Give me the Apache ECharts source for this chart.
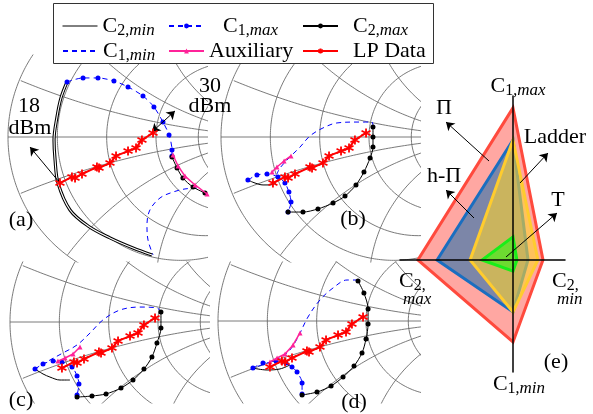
<!DOCTYPE html>
<html>
<head>
<meta charset="utf-8">
<script src="https://cdn.jsdelivr.net/npm/echarts@6/dist/echarts.min.js"></script>
<style>
html,body{margin:0;padding:0;background:#fff;}
#chart{width:593px;height:414px;}
</style>
</head>
<body>
<div id="chart"></div>
<script>
// ---------- data: reflection coefficients (Re, Im) ----------
// load-pull trajectory, identical in all four panels
const lpData = [[-0.649,-0.311],[-0.568,-0.270],[-0.547,-0.277],[-0.500,-0.250],[-0.399,-0.203],[-0.385,-0.209],[-0.311,-0.176],[-0.270,-0.128],[-0.189,-0.095],[-0.135,-0.074],[-0.095,-0.020],[-0.020,0.027]];

// panel (a)
const aC2min = [[-0.601,0.372],[-0.642,0.264],[-0.669,0.135],[-0.689,-0.020],[-0.682,-0.155],[-0.662,-0.311],[-0.581,-0.493],[-0.459,-0.601],[-0.311,-0.682],[-0.155,-0.750],[-0.027,-0.797]];
const aC1min = [[0.277,-0.345],[0.196,-0.351],[0.115,-0.372],[0.027,-0.412],[-0.041,-0.493],[-0.061,-0.595],[-0.054,-0.696],[-0.020,-0.797]];
const aC1max = [[-0.601,0.372],[-0.493,0.399],[-0.392,0.399],[-0.284,0.378],[-0.189,0.338],[-0.088,0.277],[-0.014,0.203],[0.047,0.101],[0.088,0.014],[0.108,-0.088],[0.108,-0.128]];
const aC2max = [[0.108,-0.135],[0.142,-0.209],[0.182,-0.277],[0.250,-0.338],[0.331,-0.378]];
const aAux = [[0.115,-0.122],[0.149,-0.196],[0.196,-0.264],[0.264,-0.324],[0.345,-0.385]];

// panel (b)
const bC2min = [[-0.818,-0.291],[-0.770,-0.311],[-0.716,-0.324],[-0.669,-0.324],[-0.628,-0.311]];
const bC1min = [[0.027,0.068],[0.020,0.101],[-0.081,0.101],[-0.216,0.095],[-0.311,0.061],[-0.399,0.007],[-0.466,-0.068],[-0.534,-0.135],[-0.601,-0.209],[-0.622,-0.250]];
const bC1max = [[-0.818,-0.291],[-0.757,-0.257],[-0.689,-0.250],[-0.615,-0.270],[-0.568,-0.311],[-0.541,-0.372],[-0.527,-0.439],[-0.547,-0.507]];
const bC2max = [[-0.547,-0.507],[-0.446,-0.507],[-0.345,-0.486],[-0.243,-0.446],[-0.162,-0.399],[-0.088,-0.324],[-0.034,-0.236],[0.007,-0.142],[0.027,-0.068],[0.027,0],[0.027,0.068]];
const bAux = [[-0.527,-0.128],[-0.574,-0.162],[-0.622,-0.203],[-0.655,-0.236]];

// panel (c)
const cC2min = [[-0.831,-0.318],[-0.777,-0.351],[-0.730,-0.372],[-0.662,-0.392],[-0.595,-0.392]];
const cC1min = [[0.020,0.068],[-0.007,0.095],[-0.122,0.101],[-0.257,0.081],[-0.372,0.014],[-0.459,-0.074],[-0.547,-0.155],[-0.642,-0.209],[-0.730,-0.257],[-0.831,-0.318]];
const cC1max = [[-0.831,-0.318],[-0.777,-0.284],[-0.709,-0.264],[-0.649,-0.270],[-0.581,-0.304],[-0.547,-0.365],[-0.534,-0.419],[-0.547,-0.493]];
const cC2max = [[-0.547,-0.507],[-0.446,-0.500],[-0.351,-0.486],[-0.250,-0.446],[-0.169,-0.392],[-0.095,-0.318],[-0.041,-0.236],[-0.007,-0.142],[0.020,-0.041],[0.020,0.068]];
const cAux = [[-0.527,-0.169],[-0.574,-0.216],[-0.628,-0.243],[-0.676,-0.264]];

// panel (d)
const dC2min = [[-0.764,-0.318],[-0.669,-0.331],[-0.581,-0.324],[-0.514,-0.297]];
const dC1min = [[-0.054,0.277],[-0.128,0.277],[-0.223,0.223],[-0.311,0.142],[-0.392,0.027],[-0.459,-0.108],[-0.514,-0.196],[-0.581,-0.250],[-0.669,-0.284],[-0.764,-0.318]];
const dC1max = [[-0.764,-0.318],[-0.696,-0.284],[-0.608,-0.270],[-0.541,-0.284],[-0.500,-0.311],[-0.466,-0.345],[-0.432,-0.419],[-0.432,-0.493]];
const dC2max = [[-0.432,-0.500],[-0.331,-0.480],[-0.236,-0.439],[-0.155,-0.378],[-0.081,-0.304],[-0.027,-0.216],[0,-0.122],[0.014,-0.020],[0.014,0.081],[-0.014,0.189],[-0.054,0.270]];
const dAux = [[-0.446,-0.081],[-0.493,-0.162],[-0.547,-0.223],[-0.601,-0.250],[-0.649,-0.277]];

// Smith chart grid values
const rCircles = [0, 0.2, 0.5, 1, 1.8];
const xArcs = [0.2, 0.5, 1, 2];

// panel (e): capacitance range per topology, order [C1,max, C2,max, C1,min, C2,min]
const radarAxes = ['C1,max', 'C2,max', 'C1,min', 'C2,min'];
const topologyNames = ['Π', 'h-Π', 'Ladder', 'T'];
const piVals = [5.07, 3.17, 2.73, 1.0];
const hPiVals = [4.0, 2.53, 1.73, 0.5];
const ladderVals = [4.0, 1.43, 1.73, 0.83];
const tVals = [0.77, 1.03, 0.37, 0.13];

// ---------- layout ----------
const SERIF = 'Liberation Serif';
const S = 148;        // px per unit of reflection coefficient
const RS = 30;        // px per unit on the topology chart
const panels = [
  {left:0,   top:55,  width:207, height:207, cx:156, cy:137},
  {left:213, top:55,  width:207, height:207, cx:369, cy:137},
  {left:2,   top:262, width:207, height:141, cx:158, cy:322},
  {left:211, top:262, width:209, height:141, cx:366, cy:321}
];
const panelData = [
  {c2min:aC2min, c1min:aC1min, c1max:aC1max, c2max:aC2max, aux:aAux},
  {c2min:bC2min, c1min:bC1min, c1max:bC1max, c2max:bC2max, aux:bAux},
  {c2min:cC2min, c1min:cC1min, c1max:cC1max, c2max:cC2max, aux:cAux},
  {c2min:dC2min, c1min:dC1min, c1max:dC1max, c2max:dC2max, aux:dAux}
];
const radarBox = {left:400, top:96, width:165, height:276, cx:513, cy:260};

function smithGrid() {
  const pts = [];
  const gap = () => pts.push(['-', '-']);
  rCircles.forEach(r => {
    const c = r / (1 + r), rad = 1 / (1 + r);
    for (let i = 0; i <= 360; i++) {
      const t = i * Math.PI / 180;
      pts.push([c + rad * Math.cos(t), rad * Math.sin(t)]);
    }
    gap();
  });
  xArcs.forEach(x => [1, -1].forEach(sg => {
    const cy = sg / x, rad = 1 / x;
    let on = false;
    for (let i = 0; i <= 1440; i++) {
      const t = i * Math.PI / 720;
      const px = 1 + rad * Math.cos(t), py = cy + rad * Math.sin(t);
      if (px * px + py * py <= 1.0001) { pts.push([px, py]); on = true; }
      else if (on) { gap(); on = false; }
    }
    if (on) gap();
  }));
  pts.push([-1, 0], [1, 0]);
  return pts;
}
const gridPts = smithGrid();

const STAR = 'path://M0,-5L0,5M-4.33,-2.5L4.33,2.5M-4.33,2.5L4.33,-2.5';
const BLUE = '#0000ff', MAG = '#ff2399', RED = '#ff0000';

const grids = [], xAxes = [], yAxes = [], series = [];
panels.forEach((p, i) => {
  grids.push({left:p.left, top:p.top, width:p.width, height:p.height, containLabel:false});
  xAxes.push({gridIndex:i, type:'value', show:false,
    min:(p.left - p.cx) / S, max:(p.left + p.width - p.cx) / S});
  yAxes.push({gridIndex:i, type:'value', show:false,
    min:(p.cy - p.top - p.height) / S, max:(p.cy - p.top) / S});
  const d = panelData[i];
  const base = {type:'line', xAxisIndex:i, yAxisIndex:i, clip:true, animation:false};
  series.push(Object.assign({}, base, {name:'smith' + i, data:gridPts, symbol:'none', silent:true, z:1,
    lineStyle:{color:'#6b6b6b', width:0.9}}));
  series.push(Object.assign({}, base, {name:'C1,min', data:d.c1min, symbol:'none', smooth:0.35, z:2,
    itemStyle:{color:BLUE, opacity:0}, lineStyle:{color:BLUE, width:1, type:[5,4]}}));
  if (i === 0) {
    // panel (a): C2,min drawn as a double rule
    series.push(Object.assign({}, base, {name:'C2,min', data:d.c2min, symbol:'none', smooth:0.35, z:2,
      itemStyle:{color:'#000', opacity:0}, lineStyle:{color:'#000', width:3.2}}));
    series.push(Object.assign({}, base, {name:'C2,min', data:d.c2min, symbol:'none', smooth:0.35, z:2,
      itemStyle:{color:'#fff', opacity:0}, lineStyle:{color:'#fff', width:1.1}}));
  } else {
    series.push(Object.assign({}, base, {name:'C2,min', data:d.c2min, symbol:'none', smooth:0.35, z:2,
      itemStyle:{color:'#000', opacity:0}, lineStyle:{color:'#000', width:1}}));
  }
  series.push(Object.assign({}, base, {name:'C1,max', data:d.c1max, symbol:'circle', symbolSize:5, smooth:0.3, z:3,
    itemStyle:{color:BLUE}, lineStyle:{color:BLUE, width:1, type:[5,4]}}));
  series.push(Object.assign({}, base, {name:'C2,max', data:d.c2max, symbol:'circle', symbolSize:5, smooth:0.3, z:3,
    itemStyle:{color:'#000'}, lineStyle:{color:'#000', width:1}}));
  series.push(Object.assign({}, base, {name:'Auxiliary', data:d.aux, symbol:'triangle', symbolSize:5, z:4,
    itemStyle:{color:MAG}, lineStyle:{color:MAG, width:1.5}}));
  const lp = Object.assign({}, base, {name:'LP Data', data:lpData, symbol:STAR, symbolSize:9, z:5,
    itemStyle:{color:RED, borderColor:RED, borderWidth:1.8}, lineStyle:{color:RED, width:2}});
  if (i === 0) {
    lp.markLine = {silent:true, animation:false, symbol:['none','arrow'], symbolSize:8,
      label:{show:false}, lineStyle:{color:'#000', width:1, type:'solid'},
      data:[
        [{coord:lpData[0]}, {coord:[-0.851,-0.068]}],
        [{coord:[-0.027,0.034], symbol:'arrow'}, {coord:[0.128,0.176]}]
      ]};
  }
  series.push(lp);
});

// topology chart
grids.push({left:radarBox.left, top:radarBox.top, width:radarBox.width, height:radarBox.height});
xAxes.push({gridIndex:4, type:'value', z:10,
  min:(radarBox.left - radarBox.cx) / RS, max:(radarBox.left + radarBox.width - radarBox.cx) / RS,
  axisLine:{show:true, onZero:true, lineStyle:{color:'#000', width:1.5}},
  axisTick:{show:false}, axisLabel:{show:false}, splitLine:{show:false}});
yAxes.push({gridIndex:4, type:'value', z:10,
  min:(radarBox.cy - radarBox.top - radarBox.height) / RS, max:(radarBox.cy - radarBox.top) / RS,
  axisLine:{show:true, onZero:true, lineStyle:{color:'#000', width:1.5}},
  axisTick:{show:false}, axisLabel:{show:false}, splitLine:{show:false}});

const shapeFill = ['rgba(255,80,70,0.5)', 'rgba(37,111,171,0.6)', 'rgba(255,212,45,0.6)', 'rgba(70,235,30,0.7)'];
const shapeStroke = ['#ff4a3d', '#1a6ec0', '#ffcc2e', '#19ee19'];
series.push({
  type:'custom', name:'topology', xAxisIndex:4, yAxisIndex:4, animation:false, silent:true, z:2,
  data:[piVals, hPiVals, ladderVals, tVals].map((v, k) => ({name:topologyNames[k], value:v})),
  renderItem(params, api) {
    const k = params.dataIndex;
    const up = api.value(0), lf = api.value(1), dn = api.value(2), rt = api.value(3);
    return {type:'polygon',
      shape:{points:[api.coord([0, up]), api.coord([-lf, 0]), api.coord([0, -dn]), api.coord([rt, 0])]},
      style:{fill:shapeFill[k], stroke:shapeStroke[k], lineWidth:3, lineJoin:'miter'}};
  }
});
const toR = (px, py) => [(px - radarBox.cx) / RS, (radarBox.cy - py) / RS];
series.push({
  type:'line', name:'pointers', xAxisIndex:4, yAxisIndex:4, data:[[0,0]], symbol:'none', z:12, animation:false,
  markLine:{silent:true, animation:false, symbol:['none','arrow'], symbolSize:8, label:{show:false},
    lineStyle:{color:'#000', width:1, type:'solid'},
    data:[
      [{coord:toR(489,161)}, {coord:toR(446,122)}],
      [{coord:toR(474,218)}, {coord:toR(446,190)}],
      [{coord:toR(520,183)}, {coord:toR(548,153)}],
      [{coord:toR(506,257)}, {coord:toR(557,213)}]
    ]}
});

// ---------- text ----------
const rich = {
  m:{fontFamily:SERIF, fontSize:22, lineHeight:26, color:'#000', fill:'#000'},
  s:{fontFamily:SERIF, fontSize:16, lineHeight:14, verticalAlign:'bottom', color:'#000', fill:'#000'},
  i:{fontFamily:SERIF, fontSize:17, fontStyle:'italic', lineHeight:14, verticalAlign:'bottom', color:'#000', fill:'#000'},
  p:{fontFamily:SERIF, fontSize:22, lineHeight:26, color:'#000', fill:'#000'},
  sp14:{width:14, lineHeight:26}, sp10:{width:10, lineHeight:26}
};
function capLabel(name) {
  const m = name.match(/^C(\d),(\w+)$/);
  return m ? '{m|C}{s|' + m[1] + ',}{i|' + m[2] + '}' : '{p|' + name + '}';
}
const legendPos = [
  {name:'C2,min', left:62, top:15, sp:'', line:{color:'#000', width:1}},
  {name:'C1,max', left:168, top:15, sp:'sp14'},
  {name:'C2,max', left:302, top:15, sp:'sp10'},
  {name:'C1,min', left:62, top:40, sp:''},
  {name:'Auxiliary', left:168, top:40, sp:''},
  {name:'LP Data', left:302, top:40, sp:'sp10'}
];
const legends = legendPos.map(l => ({
  data:[l.line ? {name:l.name, lineStyle:l.line} : l.name],
  left:l.left, top:l.top, padding:0, itemWidth:35, itemHeight:6, selectedMode:false,
  textStyle:{fontFamily:SERIF, fontSize:22, rich:rich},
  formatter:n => (l.sp ? '{' + l.sp + '| }' : '') + capLabel(n)
}));

function txt(x, y, text, align) {
  return {type:'text', x:x, y:y, z:20,
    style:{text:text, rich:rich, align:align || 'center', verticalAlign:'middle',
      fontFamily:SERIF, fontSize:22, fill:'#000'}};
}
const graphics = [
  {type:'rect', z:3, shape:{x:53.5, y:3.5, width:380, height:60},
    style:{fill:'#fff', stroke:'#333', lineWidth:1}},
  txt(21, 220, '(a)'), txt(353, 219, '(b)'), txt(21, 400, '(c)'), txt(354, 402, '(d)'),
  txt(29, 106, '18'), txt(30, 128, 'dBm'),
  txt(210, 86, '30'), txt(210, 106, 'dBm'),
  txt(518, 86, capLabel('C1,max')),
  txt(519, 384, capLabel('C1,min')),
  txt(399, 281, '{m|C}{s|2,}', 'left'), txt(403, 301, '{i|max}', 'left'),
  txt(552, 281, '{m|C}{s|2,}', 'left'), txt(557, 301, '{i|min}', 'left'),
  txt(444, 108, 'Π'), txt(444, 176, 'h-Π'), txt(555, 137, 'Ladder'), txt(558, 200, 'T'),
  txt(556, 362, '(e)')
];

const chart = echarts.init(document.getElementById('chart'), null, {renderer:'canvas'});
chart.setOption({
  backgroundColor:'#fff',
  animation:false,
  textStyle:{fontFamily:SERIF},
  grid:grids, xAxis:xAxes, yAxis:yAxes,
  legend:legends,
  series:series,
  graphic:{elements:graphics}
});
</script>
</body>
</html>
